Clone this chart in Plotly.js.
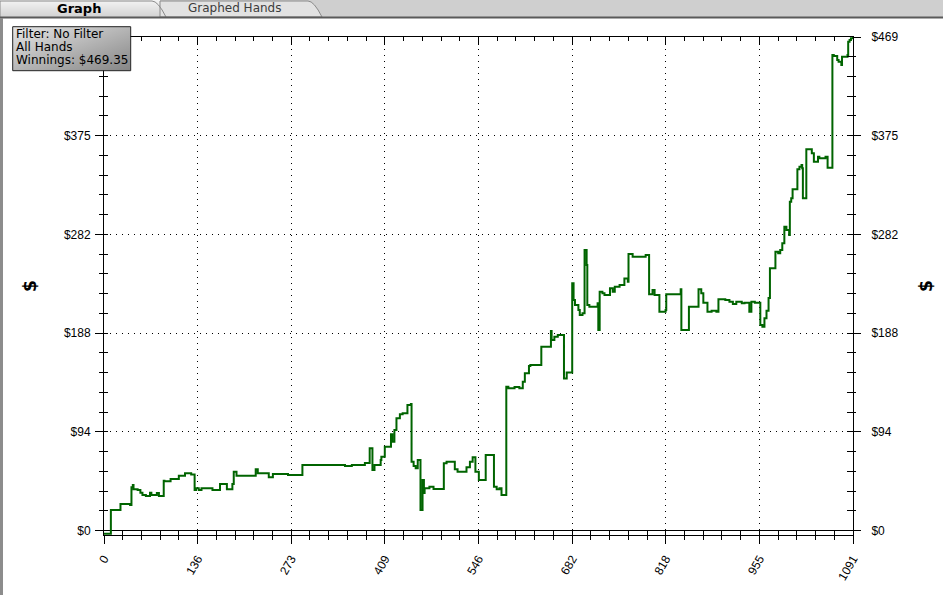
<!DOCTYPE html>
<html>
<head>
<meta charset="utf-8">
<script src="https://cdn.plot.ly/plotly-3.0.1.min.js"></script>
<style>
html,body{margin:0;padding:0;background:#fff;}
#chart{width:943px;height:595px;}
</style>
</head>
<body>
<div id="chart"></div>
<script>
// ---- data ----
var hands = [0,10,24,38,40,42,43,49,53,56,61,67,69,77,80,87,88,97,109,118,127,132,134,138,142,158,169,179,187,189,193,221,224,240,246,268,289,351,361,380,387,391,394,403,404,409,418,420,423,426,431,435,442,447,448,451,454,457,461,464,466,467,474,480,495,499,511,515,528,533,537,541,546,556,568,572,576,579,586,589,598,605,610,613,619,621,637,651,652,656,661,670,674,682,684,686,691,693,697,700,703,704,707,719,720,722,726,729,737,741,744,751,758,763,764,770,789,794,799,802,809,818,819,840,841,852,866,870,873,879,885,892,895,905,911,916,921,929,933,940,943,948,956,959,962,965,968,970,978,982,985,988,991,994,998,999,1001,1003,1010,1013,1016,1017,1018,1023,1031,1034,1040,1042,1051,1054,1061,1063,1068,1070,1074,1075,1083,1084,1086,1088,1091];
var winnings = [-3.0,19.5,25.2,24.3,41.1,43.3,39.2,38.5,35.9,33.8,32.8,35.9,33.8,35.7,32.8,47.4,46.8,49.0,52.1,54.4,53.4,38.5,40.1,38.5,40.1,38.5,44.2,39.2,44.2,55.9,52.1,58.2,54.4,50.6,53.7,52.8,62.3,61.3,62.3,64.2,78.2,57.5,62.3,67.0,70.2,79.7,91.5,84.5,95.6,106.7,110.5,111.5,119.4,120.3,65.4,61.3,59.2,67.0,19.5,48.0,35.7,40.1,41.7,39.5,63.9,65.4,58.2,55.9,60.1,65.4,69.6,55.9,48.0,71.8,41.7,39.2,40.1,33.8,136.8,135.2,136.5,135.2,141.5,149.5,156.4,157.4,174.8,189.7,181.2,184.3,185.9,144.7,150.4,235.1,219.2,214.5,209.7,204.9,206.6,266.8,252.5,214.5,212.8,216.1,190.7,227.1,225.6,224.0,230.3,227.1,231.9,233.5,239.8,236.6,263.0,260.4,262.0,224.6,228.7,224.0,208.1,209.7,224.6,229.4,190.7,212.8,229.4,225.6,216.6,208.1,209.0,208.1,219.9,219.2,217.6,215.4,217.6,216.1,216.6,208.1,217.6,216.6,195.4,193.8,201.8,209.0,221.1,249.4,265.1,263.6,266.8,273.1,288.9,285.8,281.0,312.7,315.9,324.5,343.5,346.0,347.6,344.5,315.9,362.5,358.7,350.7,355.5,354.0,355.5,345.0,452.2,451.3,447.5,445.8,442.7,450.6,452.2,464.9,466.5,468.1,469.35];
var xTickVals = [0,136.375,272.75,409.125,545.5,681.875,818.25,954.625,1091];
var xTickLabels = ['0','136','273','409','546','682','818','955','1091'];
var yTickVals = [0,93.87,187.74,281.61,375.48,469.35];
var yTickLabels = ['$0','$94','$188','$282','$375','$469'];
var infoLines = ['Filter: No Filter','All Hands','Winnings: $469.35'];
var tabLabels = ['Graph','Graphed Hands'];

// ---- layout helpers ----
var PX0 = 104, PW = 749, PY0 = 535, PH = 498;
function xp(px){ return (px - PX0) / PW; }
function yp(py){ return (PY0 - py) / PH; }

var xMin = 0, xMax = 1091, yMin = -4.25, yMax = 469.35;
var black = '#000000';
var tickFont = {family: 'Liberation Sans, Arial, sans-serif', size: 12, color: black};
// the top-left label is hidden under the info box in the reference
var leftTickLabels = yTickLabels.map(function(t, i){ return i === yTickLabels.length - 1 ? '' : t; });

var traces = [
  {x: hands, y: winnings, type: 'scatter', mode: 'lines', line: {shape: 'hv', color: '#006400', width: 2},
   xaxis: 'x', yaxis: 'y', hoverinfo: 'x+y', showlegend: false},
  {x: [hands[0]], y: [winnings[0]], type: 'scatter', mode: 'markers', opacity: 0, xaxis: 'x2', yaxis: 'y3', hoverinfo: 'skip', showlegend: false},
  {x: [hands[0]], y: [winnings[0]], type: 'scatter', mode: 'markers', opacity: 0, xaxis: 'x3', yaxis: 'y2', hoverinfo: 'skip', showlegend: false},
  {x: [hands[0]], y: [winnings[0]], type: 'scatter', mode: 'markers', opacity: 0, xaxis: 'x', yaxis: 'y4', hoverinfo: 'skip', showlegend: false}
];

var grid = {showgrid: true, gridcolor: black, gridwidth: 1, griddash: '1px,5px'};
var xMinorStep = 136.375 / 5, yMinorStep = 93.87 / 5;

var svgGrad = '<svg xmlns="http://www.w3.org/2000/svg" width="120" height="44"><defs><linearGradient id="g" x1="0" y1="0" x2="1" y2="1"><stop offset="0" stop-color="#e6e6e6"/><stop offset="1" stop-color="#858585"/></linearGradient></defs><rect width="120" height="44" fill="url(#g)"/></svg>';
var svgTab = '<svg xmlns="http://www.w3.org/2000/svg" width="10" height="17"><defs><linearGradient id="t" x1="0" y1="0" x2="0" y2="1"><stop offset="0" stop-color="#f4f4f4"/><stop offset="1" stop-color="#d2d2d2"/></linearGradient></defs><rect width="10" height="17" fill="url(#t)"/></svg>';

var layout = {
  width: 943, height: 595,
  margin: {l: 104, r: 90, t: 37, b: 60, pad: 0},
  paper_bgcolor: '#ffffff', plot_bgcolor: '#ffffff',
  showlegend: false,
  font: {family: 'Liberation Sans, Arial, sans-serif', color: black},
  xaxis: Object.assign({
    range: [xMin, xMax], side: 'bottom', anchor: 'y',
    tickmode: 'array', tickvals: xTickVals, ticktext: xTickLabels,
    ticks: 'outside', ticklen: 8, tickwidth: 1, tickcolor: black, tickangle: -60, ticklabelstandoff: 3,
    tickfont: tickFont, showline: true, linecolor: black, linewidth: 1, zeroline: false,
    minor: {tickmode: 'linear', tick0: 0, dtick: xMinorStep, ticks: 'outside', ticklen: 4, tickwidth: 1, tickcolor: black, showgrid: false}
  }, grid),
  xaxis2: {
    range: [xMin, xMax], side: 'bottom', anchor: 'y', overlaying: 'x',
    tickmode: 'array', tickvals: xTickVals, showticklabels: false,
    ticks: 'inside', ticklen: 5, tickwidth: 1, tickcolor: black, showgrid: false, showline: false, zeroline: false,
    minor: {tickmode: 'linear', tick0: 0, dtick: xMinorStep, ticks: 'inside', ticklen: 5, tickwidth: 1, tickcolor: black, showgrid: false}
  },
  xaxis3: {
    range: [xMin, xMax], side: 'top', anchor: 'y', overlaying: 'x',
    tickmode: 'array', tickvals: xTickVals, showticklabels: false,
    ticks: 'inside', ticklen: 8, tickwidth: 1, tickcolor: black, showgrid: false,
    showline: true, linecolor: black, linewidth: 1, zeroline: false,
    minor: {tickmode: 'linear', tick0: 0, dtick: xMinorStep, ticks: 'inside', ticklen: 4, tickwidth: 1, tickcolor: black, showgrid: false}
  },
  yaxis: Object.assign({
    range: [yMin, yMax], side: 'left', anchor: 'x',
    tickmode: 'array', tickvals: yTickVals, ticktext: leftTickLabels,
    ticks: 'outside', ticklen: 8, tickwidth: 1, tickcolor: black, tickfont: tickFont, ticklabelstandoff: 2,
    showline: true, linecolor: black, linewidth: 1,
    zeroline: true, zerolinecolor: black, zerolinewidth: 1,
    title: {text: '$', font: {family: 'DejaVu Sans, sans-serif', size: 17, color: black, weight: 'bold'}, standoff: 22},
    minor: {tickmode: 'linear', tick0: 0, dtick: yMinorStep, ticks: 'outside', ticklen: 4, tickwidth: 1, tickcolor: black, showgrid: false}
  }, grid),
  yaxis3: {
    range: [yMin, yMax], side: 'left', anchor: 'x', overlaying: 'y',
    tickmode: 'array', tickvals: yTickVals, showticklabels: false,
    ticks: 'inside', ticklen: 4, tickwidth: 1, tickcolor: black, showgrid: false, showline: false, zeroline: false,
    minor: {tickmode: 'linear', tick0: 0, dtick: yMinorStep, ticks: 'inside', ticklen: 4, tickwidth: 1, tickcolor: black, showgrid: false}
  },
  yaxis2: {
    range: [yMin, yMax], side: 'right', anchor: 'x', overlaying: 'y',
    tickmode: 'array', tickvals: yTickVals, ticktext: yTickLabels,
    ticks: 'outside', ticklen: 7, tickwidth: 1, tickcolor: black, tickfont: tickFont, ticklabelstandoff: 8,
    showgrid: false, showline: true, linecolor: black, linewidth: 1, zeroline: false,
    title: {text: '$', font: {family: 'DejaVu Sans, sans-serif', size: 17, color: black, weight: 'bold'}, standoff: 22},
    minor: {tickmode: 'linear', tick0: 0, dtick: yMinorStep, ticks: 'outside', ticklen: 2, tickwidth: 1, tickcolor: black, showgrid: false}
  },
  yaxis4: {
    range: [yMin, yMax], side: 'right', anchor: 'x', overlaying: 'y',
    tickmode: 'array', tickvals: yTickVals, showticklabels: false,
    ticks: 'inside', ticklen: 6, tickwidth: 1, tickcolor: black, showgrid: false, showline: false, zeroline: false,
    minor: {tickmode: 'linear', tick0: 0, dtick: yMinorStep, ticks: 'inside', ticklen: 6, tickwidth: 1, tickcolor: black, showgrid: false}
  },
  images: [
    {source: 'data:image/svg+xml;charset=utf-8,' + encodeURIComponent(svgTab), xref: 'paper', yref: 'paper',
     x: xp(0), y: yp(0), sizex: 160 / PW, sizey: 17 / PH, sizing: 'stretch', xanchor: 'left', yanchor: 'top', layer: 'above'},
    {source: 'data:image/svg+xml;charset=utf-8,' + encodeURIComponent(svgGrad), xref: 'paper', yref: 'paper',
     x: xp(12.7), y: yp(26.7), sizex: 118 / PW, sizey: 44 / PH, sizing: 'stretch', xanchor: 'left', yanchor: 'top', layer: 'above'}
  ],
  shapes: [
    {type: 'rect', xref: 'paper', yref: 'paper', x0: xp(0), x1: xp(943), y0: yp(17), y1: yp(0), fillcolor: '#cfcfcf', line: {width: 0}, layer: 'below'},
    {type: 'path', xref: 'paper', yref: 'paper', layer: 'above',
     path: 'M ' + xp(160) + ',' + yp(17) + ' L ' + xp(160) + ',' + yp(1) + ' L ' + xp(308) + ',' + yp(1) + ' Q ' + xp(314) + ',' + yp(1) + ' ' + xp(322) + ',' + yp(17) + ' Z',
     fillcolor: '#e2e2e2', line: {color: '#8a8a8a', width: 1}},
    {type: 'path', xref: 'paper', yref: 'paper', layer: 'above',
     path: 'M ' + xp(0) + ',' + yp(17) + ' L ' + xp(0) + ',' + yp(1) + ' L ' + xp(152) + ',' + yp(1) + ' Q ' + xp(158) + ',' + yp(1) + ' ' + xp(166) + ',' + yp(17),
     line: {color: '#8a8a8a', width: 1}},
    {type: 'line', xref: 'paper', yref: 'paper', x0: xp(0), x1: xp(943), y0: yp(17.5), y1: yp(17.5), line: {color: '#5a5a5a', width: 2}, layer: 'above'},
    {type: 'line', xref: 'paper', yref: 'paper', x0: xp(1.5), x1: xp(1.5), y0: yp(595), y1: yp(18), line: {color: '#8c8c8c', width: 3}, layer: 'above'},
    {type: 'rect', xref: 'paper', yref: 'paper', x0: xp(12.7), x1: xp(130.7), y0: yp(70.7), y1: yp(26.7), line: {color: '#202020', width: 1}, layer: 'above'}
  ],
  annotations: [
    {text: '<b>' + tabLabels[0] + '</b>', xref: 'paper', yref: 'paper', x: xp(79), y: yp(8.5), xanchor: 'center', yanchor: 'middle', showarrow: false,
     font: {family: 'DejaVu Sans, sans-serif', size: 13, color: '#000'}},
    {text: tabLabels[1], xref: 'paper', yref: 'paper', x: xp(234), y: yp(8.5), xanchor: 'center', yanchor: 'middle', showarrow: false,
     font: {family: 'DejaVu Sans, sans-serif', size: 12, color: '#3c3c3c'}},
    {text: infoLines[0], xref: 'paper', yref: 'paper', x: xp(13.5), y: yp(34), xanchor: 'left', yanchor: 'middle', showarrow: false,
     font: {family: 'DejaVu Sans, sans-serif', size: 12, color: '#000'}},
    {text: infoLines[1], xref: 'paper', yref: 'paper', x: xp(13.5), y: yp(47), xanchor: 'left', yanchor: 'middle', showarrow: false,
     font: {family: 'DejaVu Sans, sans-serif', size: 12, color: '#000'}},
    {text: infoLines[2], xref: 'paper', yref: 'paper', x: xp(13.5), y: yp(60), xanchor: 'left', yanchor: 'middle', showarrow: false,
     font: {family: 'DejaVu Sans, sans-serif', size: 12, color: '#000'}}
  ]
};

Plotly.newPlot('chart', traces, layout, {displayModeBar: false, staticPlot: true});
</script>
</body>
</html>
